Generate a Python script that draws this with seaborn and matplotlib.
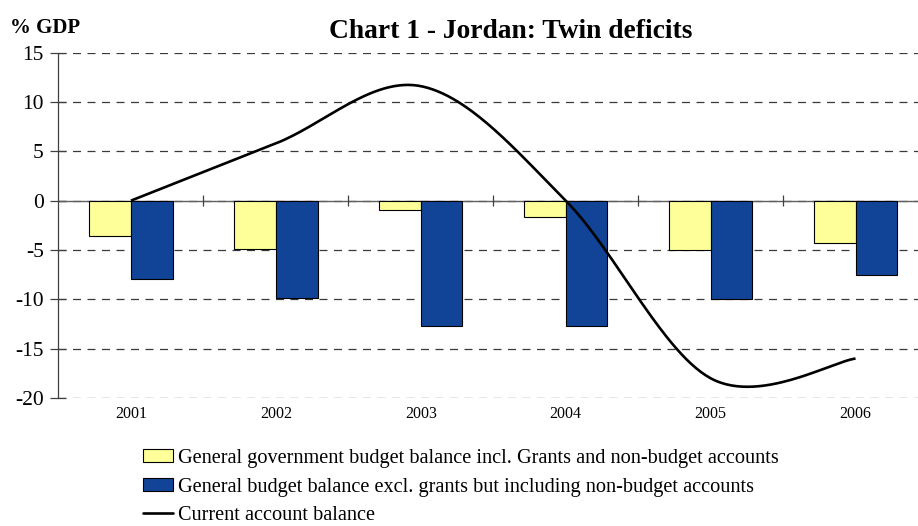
import numpy as np
import pandas as pd
import matplotlib
matplotlib.use("Agg")
import matplotlib.pyplot as plt
from matplotlib.lines import Line2D
import seaborn as sns

# Data (% of GDP)
years = ["2001", "2002", "2003", "2004", "2005", "2006"]
budget_incl_grants = [-3.6, -4.9, -1.0, -1.7, -5.0, -4.3]
budget_excl_grants = [-7.9, -9.9, -12.7, -12.7, -10.0, -7.5]
current_account = [0.0, 5.8, 11.6, 0.0, -18.0, -16.0]

series_names = [
    "General government budget balance incl. Grants and non-budget accounts",
    "General budget balance excl. grants but including non-budget accounts",
]
line_name = "Current account balance"
y_ticks = [15, 10, 5, 0, -5, -10, -15, -20]

YELLOW = "#FFFF99"
BLUE = "#114497"
SERIF = "Liberation Serif"

sns.set_theme(style="white")
plt.rcParams["font.family"] = [SERIF, "DejaVu Serif"]
plt.rcParams["text.color"] = "black"
plt.rcParams["xtick.color"] = "black"
plt.rcParams["ytick.color"] = "black"

df = pd.DataFrame({
    "year": years * 2,
    "value": budget_incl_grants + budget_excl_grants,
    "series": [series_names[0]] * len(years) + [series_names[1]] * len(years),
})

W, H = 918, 526
fig = plt.figure(figsize=(W / 100, H / 100), dpi=100)
ax = fig.add_axes([58.5 / W, (H - 398) / H, (928 - 58.5) / W, (398 - 52.6) / H])

sns.barplot(data=df, x="year", y="value", hue="series", order=years,
            hue_order=series_names, palette=[YELLOW, BLUE], saturation=1,
            width=0.575, edgecolor="black", linewidth=0.8, ax=ax, zorder=3)
bar_handles, bar_labels = ax.get_legend_handles_labels()
if ax.get_legend() is not None:
    ax.get_legend().remove()


def smooth_curve(values, n=60):
    """Bezier smoothing through the points (spreadsheet-style smoothed line)."""
    pts = np.column_stack([np.arange(len(values), dtype=float),
                           np.asarray(values, dtype=float)])
    ext = np.vstack([pts[0], pts, pts[-1]])
    xs, ys = [], []
    t = np.linspace(0, 1, n)[:, None]
    for i in range(len(pts) - 1):
        p0, p1, p2, p3 = ext[i], ext[i + 1], ext[i + 2], ext[i + 3]
        c1 = p1 + (p2 - p0) / 6.0
        c2 = p2 - (p3 - p1) / 6.0
        seg = ((1 - t) ** 3) * p1 + 3 * ((1 - t) ** 2) * t * c1 \
            + 3 * (1 - t) * t ** 2 * c2 + t ** 3 * p2
        xs.append(seg[:, 0])
        ys.append(seg[:, 1])
    return np.concatenate(xs), np.concatenate(ys)


cx, cy = smooth_curve(current_account)
ax.plot(cx, cy, color="black", lw=1.9, zorder=5, solid_capstyle="butt")

# Axes styling
ax.set_xlim(-0.5, len(years) - 0.5)
ax.set_ylim(-20, 15)
ax.set_yticks(y_ticks)
ax.set_yticklabels([str(v) for v in y_ticks])
ax.set_xlabel("")
ax.set_ylabel("")
for side in ("top", "right", "bottom"):
    ax.spines[side].set_visible(False)
ax.spines["left"].set_color("#404040")
ax.spines["left"].set_linewidth(0.9)

ax.yaxis.grid(True, linestyle=(0, (6.4, 5.2)), color="#3a3a3a", lw=0.9)
ax.set_axisbelow(True)
ax.axhline(0, color="#606060", lw=1.0, zorder=2)
ax.vlines(np.arange(len(years) - 1) + 0.5, -0.55, 0.55, color="#404040",
          lw=0.9, zorder=2)

ax.tick_params(axis="y", which="major", direction="inout", length=11,
               width=0.9, color="#404040", pad=5, labelsize=15.5,
               labelcolor="black", left=True)
ax.tick_params(axis="x", which="major", length=0, pad=6, labelsize=11.5,
               labelcolor="black")

fig.text(10 / W, 1 - 28 / H, "% GDP", fontsize=15, fontweight="bold",
         color="black", ha="left", va="center")
fig.text(511 / W, 1 - 31 / H, "Chart 1 - Jordan: Twin deficits",
         fontsize=19.8, fontweight="bold", color="black",
         ha="center", va="center")

line_handle = Line2D([], [], color="black", lw=1.9)
fig.legend(bar_handles + [line_handle], bar_labels + [line_name],
           loc="upper left", bbox_to_anchor=(142.7 / W, (H - 449) / H),
           frameon=False, fontsize=14.6, handlelength=1.5, handleheight=0.6,
           handletextpad=0.25, labelspacing=0.47, borderpad=0,
           borderaxespad=0, labelcolor="black")

fig.savefig("out.png", dpi=100)
